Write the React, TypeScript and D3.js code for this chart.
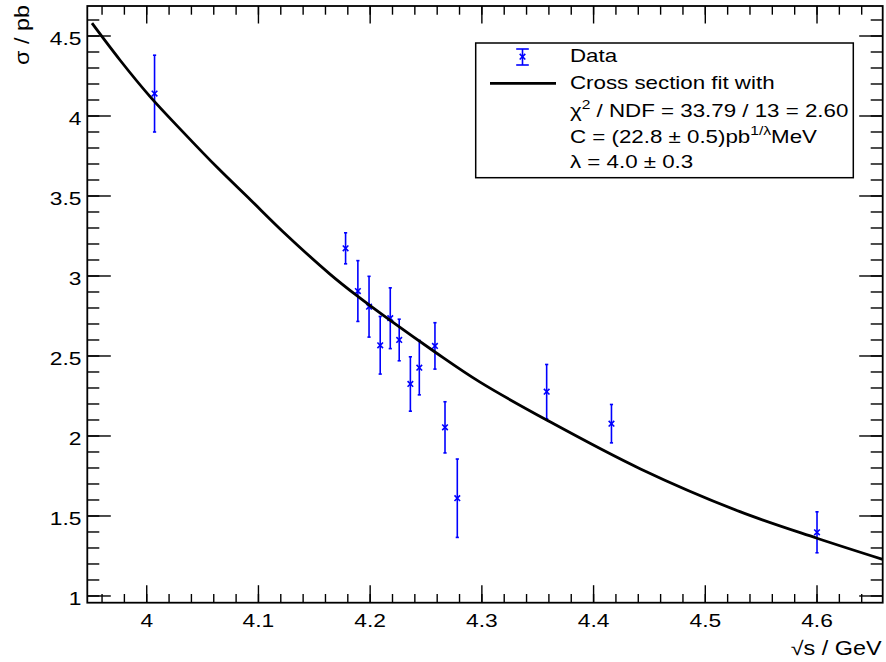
import React, { useEffect, useRef } from "react";
import * as d3 from "d3";

// measured points: sqrt(s) in GeV, cross section in pb, symmetric error
const energies = [4.007, 4.178, 4.189, 4.199, 4.209, 4.218, 4.226, 4.236, 4.244, 4.258, 4.267, 4.278, 4.358, 4.416, 4.6];
const sigmas = [4.14, 3.173, 2.906, 2.808, 2.567, 2.736, 2.6, 2.325, 2.427, 2.563, 2.054, 1.611, 2.277, 2.077, 1.398];
const errors = [0.24, 0.097, 0.19, 0.19, 0.18, 0.19, 0.13, 0.17, 0.17, 0.145, 0.16, 0.245, 0.17, 0.12, 0.128];

// fit curve
const fitX = [3.951, 3.976, 4.003, 4.033, 4.063, 4.093, 4.122, 4.164, 4.189, 4.218, 4.258, 4.298, 4.358, 4.442, 4.531, 4.6, 4.6588];
const fitY = [4.58, 4.35, 4.121, 3.896, 3.679, 3.475, 3.277, 3.012, 2.872, 2.722, 2.525, 2.338, 2.1, 1.794, 1.527, 1.361, 1.229];

const xTicks = [4.0, 4.1, 4.2, 4.3, 4.4, 4.5, 4.6];
const xTickLabels = ["4", "4.1", "4.2", "4.3", "4.4", "4.5", "4.6"];
const yTicks = [1, 1.5, 2, 2.5, 3, 3.5, 4, 4.5];
const yTickLabels = ["1", "1.5", "2", "2.5", "3", "3.5", "4", "4.5"];

const FONT = "'Liberation Sans', Arial, Helvetica, sans-serif";
const STRETCH = 1.2;

const App = () => {
    const svgRef = useRef<SVGSVGElement>(null);

    useEffect(() => {
        const width = 886;
        const height = 662;
        const frame = { left: 87.3, right: 882.7, top: 6, bottom: 602.7 };

        const svg = d3.select(svgRef.current);
        svg.selectAll("*").remove();
        svg.attr("width", width).attr("height", height);

        svg.append("rect")
            .attr("width", width)
            .attr("height", height)
            .attr("fill", "white");

        const x = d3.scaleLinear().domain([3.9468, 4.6588]).range([frame.left, frame.right]);
        const y = d3.scaleLinear().domain([0.958, 4.6875]).range([frame.bottom, frame.top]);

        // stretched text like the original canvas
        const label = (tx: number, ty: number, anchor: string, size = 19) =>
            svg.append("text")
                .attr("transform", `translate(${tx},${ty}) scale(${STRETCH},1)`)
                .attr("text-anchor", anchor)
                .attr("font-family", FONT)
                .attr("font-size", size)
                .attr("fill", "black");

        const ticks = svg.append("g").attr("stroke", "black").attr("stroke-width", 1.4);

        // x ticks, bottom and top
        const xMinor = d3.range(3.96, 4.655, 0.02);
        xMinor.forEach((v) => {
            const px = x(v);
            ticks.append("line").attr("x1", px).attr("x2", px).attr("y1", frame.bottom).attr("y2", frame.bottom - 8.7);
            ticks.append("line").attr("x1", px).attr("x2", px).attr("y1", frame.top).attr("y2", frame.top + 8.7);
        });
        xTicks.forEach((v, i) => {
            const px = x(v);
            ticks.append("line").attr("x1", px).attr("x2", px).attr("y1", frame.bottom).attr("y2", frame.bottom - 17.5);
            ticks.append("line").attr("x1", px).attr("x2", px).attr("y1", frame.top).attr("y2", frame.top + 17.5);
            label(px, 626.5, "middle").text(xTickLabels[i]);
        });

        // y ticks, left and right
        const yMinor = d3.range(1.0, 4.65, 0.1);
        yMinor.forEach((v) => {
            const py = y(v);
            ticks.append("line").attr("x1", frame.left).attr("x2", frame.left + 12).attr("y1", py).attr("y2", py);
            ticks.append("line").attr("x1", frame.right).attr("x2", frame.right - 12).attr("y1", py).attr("y2", py);
        });
        yTicks.forEach((v, i) => {
            const py = y(v);
            ticks.append("line").attr("x1", frame.left).attr("x2", frame.left + 23.5).attr("y1", py).attr("y2", py);
            ticks.append("line").attr("x1", frame.right).attr("x2", frame.right - 23.5).attr("y1", py).attr("y2", py);
            label(81.5, py + 9.5, "end").text(yTickLabels[i]);
        });

        // frame
        svg.append("rect")
            .attr("x", frame.left)
            .attr("y", frame.top)
            .attr("width", frame.right - frame.left)
            .attr("height", frame.bottom - frame.top)
            .attr("fill", "none")
            .attr("stroke", "black")
            .attr("stroke-width", 1.8);

        // axis titles
        label(881.5, 655, "end", 19.5).text("√s / GeV");
        svg.append("text")
            .attr("transform", `translate(28.5,5) rotate(-90) scale(${STRETCH},1)`)
            .attr("text-anchor", "end")
            .attr("font-family", FONT)
            .attr("font-size", 19.5)
            .text("σ / pb");

        // data points with error bars
        const pts = svg.append("g").attr("stroke", "#0000ff").attr("stroke-width", 1.6);
        energies.forEach((e, i) => {
            const px = x(e);
            const lo = y(sigmas[i] - errors[i]);
            const hi = y(sigmas[i] + errors[i]);
            const py = y(sigmas[i]);
            pts.append("line").attr("x1", px).attr("x2", px).attr("y1", lo).attr("y2", hi);
            pts.append("line").attr("x1", px - 1.6).attr("x2", px + 1.6).attr("y1", lo).attr("y2", lo);
            pts.append("line").attr("x1", px - 1.6).attr("x2", px + 1.6).attr("y1", hi).attr("y2", hi);
            pts.append("path")
                .attr("d", `M${px - 2.8},${py - 2.8}L${px + 2.8},${py + 2.8}M${px - 2.8},${py + 2.8}L${px + 2.8},${py - 2.8}`)
                .attr("fill", "none");
        });

        // fit curve
        const line = d3
            .line<number>()
            .x((d, i) => x(fitX[i]))
            .y((d) => y(d))
            .curve(d3.curveCatmullRom.alpha(0.5));
        svg.append("path")
            .attr("d", line(fitY))
            .attr("fill", "none")
            .attr("stroke", "black")
            .attr("stroke-width", 2.8);

        // legend
        const lg = { x: 475.7, y: 43, w: 377.6, h: 134.7 };
        svg.append("rect")
            .attr("x", lg.x)
            .attr("y", lg.y)
            .attr("width", lg.w)
            .attr("height", lg.h)
            .attr("fill", "white")
            .attr("stroke", "black")
            .attr("stroke-width", 1.5);

        const mx = 522.5;
        const my = 56.7;
        const lgPts = svg.append("g").attr("stroke", "#0000ff").attr("stroke-width", 1.6);
        lgPts.append("line").attr("x1", mx).attr("x2", mx).attr("y1", 49).attr("y2", 65);
        lgPts.append("line").attr("x1", mx - 6.3).attr("x2", mx + 6.3).attr("y1", 49).attr("y2", 49);
        lgPts.append("line").attr("x1", mx - 6.3).attr("x2", mx + 6.3).attr("y1", 65).attr("y2", 65);
        lgPts.append("path")
            .attr("d", `M${mx - 2.8},${my - 2.8}L${mx + 2.8},${my + 2.8}M${mx - 2.8},${my + 2.8}L${mx + 2.8},${my - 2.8}`)
            .attr("fill", "none");

        svg.append("line")
            .attr("x1", 490)
            .attr("x2", 556)
            .attr("y1", 83.3)
            .attr("y2", 83.3)
            .attr("stroke", "black")
            .attr("stroke-width", 2.8);

        const tx = 570;
        label(tx, 62.3, "start", 18.6).text("Data");
        label(tx, 89.3, "start", 18.6).text("Cross section fit with");

        const chi = label(tx, 116.7, "start", 18.6);
        chi.append("tspan").text("χ");
        chi.append("tspan").attr("font-size", 13).attr("dy", -8).text("2");
        chi.append("tspan").attr("dy", 8).text(" / NDF = 33.79 / 13 = 2.60");

        const cLine = label(tx, 143.3, "start", 18.6);
        cLine.append("tspan").text("C = (22.8 ± 0.5)pb");
        cLine.append("tspan").attr("font-size", 13).attr("dy", -8).text("1/λ");
        cLine.append("tspan").attr("dy", 8).text("MeV");

        label(tx, 168.3, "start", 18.6).text("λ = 4.0 ± 0.3");
    }, []);

    return (
        <svg
            ref={svgRef}
            style={{ position: "absolute", left: 0, top: 0, display: "block" }}
        ></svg>
    );
};

export default App;
